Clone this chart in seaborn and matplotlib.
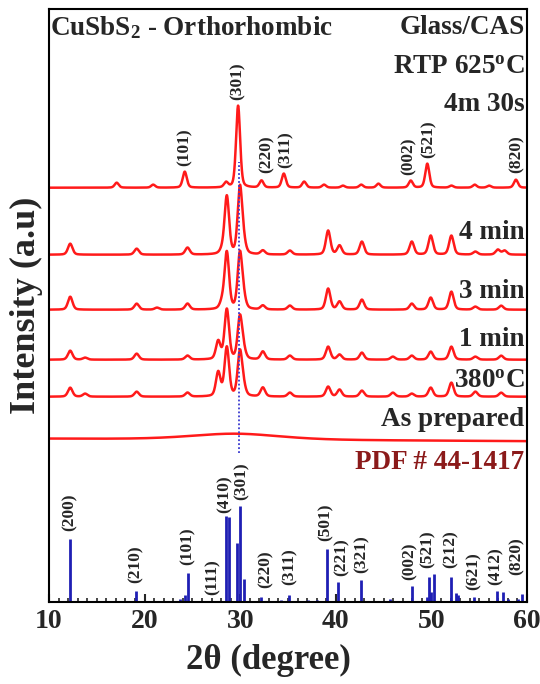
import numpy as np
import pandas as pd
import matplotlib
matplotlib.use("Agg")
import matplotlib.pyplot as plt
import seaborn as sns
from matplotlib.ticker import MultipleLocator

# ---------------- data ----------------
samples = ["4m 30s", "4 min", "3 min", "1 min", "380°C", "As prepared"]
offsets = [414, 347, 292, 242, 205, 163]

pk_4m30 = [17.08, 20.9, 24.2, 28.52, 29.78, 32.23, 34.56, 36.69, 38.77, 40.75, 42.66, 44.46, 47.84, 49.57, 52.1, 54.53, 56.04, 58.84]
h_4m30 = [5, 3, 16, 5, 82, 7, 14, 6, 3, 2, 3, 4, 7, 24, 2, 3, 2, 8]

pk_4min = [12.22, 19.17, 24.49, 28.1, 28.6, 29.97, 30.35, 32.37, 35.2, 39.2, 40.39, 42.73, 47.95, 49.93, 52.09, 54.6, 56.95, 57.66]
h_4min = [11, 6, 7, 3, 58, 66, 10, 4, 4, 24, 9, 13, 13, 19, 19, 3, 5, 4]

pk_3min = [12.22, 19.17, 21.3, 24.49, 28.1, 28.6, 29.97, 30.35, 32.37, 35.2, 39.2, 40.39, 42.73, 47.95, 49.93, 52.09, 54.6, 57.3]
h_3min = [13, 6, 2, 6, 6, 57, 55, 10, 4, 4, 21, 8, 10, 6, 12, 18, 3, 4]

pk_1min = [12.22, 13.78, 19.17, 24.49, 27.7, 28.6, 29.97, 30.35, 32.37, 35.2, 39.2, 40.39, 42.73, 45.97, 47.95, 49.93, 52.09, 54.6, 57.3]
h_1min = [9, 2, 6, 4, 18, 50, 42, 8, 8, 4, 13, 5, 7, 3, 4, 8, 13, 3, 4]

pk_380 = [12.22, 13.78, 19.17, 24.49, 27.7, 28.6, 29.97, 30.35, 32.37, 35.2, 39.2, 40.39, 42.73, 45.97, 47.95, 49.93, 52.09, 54.6, 57.3]
h_380 = [9, 3, 5, 4, 24, 49, 44, 8, 9, 4, 10, 7, 6, 4, 3, 9, 14, 5, 4]

pk_asprep = [29.5]
h_asprep = [6]

peak_sets = [(pk_4m30, h_4m30), (pk_4min, h_4min), (pk_3min, h_3min),
             (pk_1min, h_1min), (pk_380, h_380), (pk_asprep, h_asprep)]
fwhm = [0.5, 0.56, 0.56, 0.56, 0.56, 11.0]

pdf_pos = [12.16, 19.1, 23.66, 24.2, 24.57, 27.7, 28.52, 28.78, 29.71, 29.97, 30.35, 32.19, 34.28, 35.1,
           37.12, 38.06, 39.06, 40.22, 42.66, 45.72, 47.95, 49.57, 49.75, 49.93, 50.29, 52.0, 52.55,
           52.8, 54.42, 56.87, 57.48, 58.0, 59.1, 59.46]
pdf_int = [63, 11, 3, 7, 29, 1, 86, 85, 59, 96, 23, 5, 2, 7,
           2, 2, 53, 20, 22, 3, 16, 5, 25, 10, 28, 25, 9,
           7, 5, 11, 10, 3, 3, 8]

pdf_hkl = ["(200)", "(210)", "(101)", "(111)", "(410)", "(301)", "(220)", "(311)", "(501)",
           "(221)", "(321)", "(002)", "(521)", "(212)", "(621)", "(412)", "(820)"]
pdf_hkl_x = [12.2, 19.1, 24.5, 27.1, 28.35, 30.1, 32.66, 35.18, 38.95, 40.57, 42.73, 47.77, 49.57, 52.0, 54.42, 56.76, 58.92]
pdf_hkl_y = [69, 17, 35, 5, 87, 100, 12, 15, 59, 24, 27, 20, 32, 32, 10, 15, 25]

top_hkl = ["(101)", "(301)", "(220)", "(311)", "(002)", "(521)", "(820)"]
top_hkl_x = [24.17, 29.78, 32.8, 34.75, 47.6, 49.75, 58.92]
top_hkl_y = [434, 500, 427, 432, 425, 442, 427]

label_y = [497, 369, 310, 262, 220, 182]
x_ticks = [10, 20, 30, 40, 50, 60]

# ---------------- style ----------------
sns.set_style("ticks")
plt.rcParams["font.family"] = ["Liberation Serif", "DejaVu Serif"]
plt.rcParams["font.weight"] = "bold"
plt.rcParams["mathtext.fontset"] = "custom"
plt.rcParams["mathtext.rm"] = "Liberation Serif:bold"
plt.rcParams["mathtext.bf"] = "Liberation Serif:bold"
plt.rcParams["mathtext.it"] = "Liberation Serif:bold:italic"

fig = plt.figure(figsize=(5.4, 6.84), dpi=100)
ax = fig.add_axes([49 / 540, 1 - 601.7 / 684, 478 / 540, 592.7 / 684])

x = np.arange(10, 60.001, 0.02)


def profile(pos, hts, w):
    y = np.zeros_like(x)
    g = w / 2.0
    for p, h in zip(pos, hts):
        lor = 1.0 / (1.0 + ((x - p) / g) ** 2)
        gau = np.exp(-np.log(2) * ((x - p) / g) ** 2)
        y += h * (0.35 * lor + 0.65 * gau)
    return y


rows = []
for name, off, (pos, hts), w in zip(samples, offsets, peak_sets, fwhm):
    yv = off + profile(pos, hts, w)
    if name == "As prepared":
        yv = yv - 2.5 * (x - 10) / 50
    rows.append(pd.DataFrame({"two_theta": x, "intensity": yv, "sample": name}))
df = pd.concat(rows, ignore_index=True)

for name in samples:
    sub = df[df["sample"] == name]
    sns.lineplot(data=sub, x="two_theta", y="intensity", ax=ax, color="#ff1a1a",
                 lw=1.8, estimator=None, sort=False)

ax.vlines(pdf_pos, 0, pdf_int, color="#1f1fb4", lw=2.0)
ax.plot([29.9, 29.9], [149, 440], ls=(0, (1, 1.2)), color="#3a3ad0", lw=1.3, zorder=5)

for t, xx, yy in zip(pdf_hkl, pdf_hkl_x, pdf_hkl_y):
    ax.text(xx, yy + 2, t, rotation=90, ha="center", va="bottom", fontsize=12.5, fontweight="bold")
for t, xx, yy in zip(top_hkl, top_hkl_x, top_hkl_y):
    ax.text(xx, yy + 2, t, rotation=90, ha="center", va="bottom", fontsize=12.5, fontweight="bold")

lab_txt = [r"4m 30s", r"4 min", r"3 min", r"1 min", r"380$^{\mathrm{o}}$C", r"As prepared"]
for t, yy in zip(lab_txt, label_y):
    ax.text(59.75, yy, t, ha="right", va="center", fontsize=19.5, fontweight="bold")

ax.text(10.15, 574, r"CuSbS$_{2}$ - Orthorhombic", ha="left", va="center", fontsize=19.5, fontweight="bold")
ax.text(59.75, 574, "Glass/CAS", ha="right", va="center", fontsize=19.5, fontweight="bold")
ax.text(59.75, 534, r"RTP 625$^{\mathrm{o}}$C", ha="right", va="center", fontsize=19.5, fontweight="bold")
ax.text(59.75, 139, "PDF # 44-1417", ha="right", va="center", fontsize=19.5, fontweight="bold", color="#8b1a1a")

ax.set_xlim(10, 60)
ax.set_ylim(0, 592.7)
ax.set_xticks(x_ticks)
ax.xaxis.set_minor_locator(MultipleLocator(1))
ax.set_yticks([])
ax.tick_params(axis="x", which="major", direction="in", length=6, width=1.5, labelsize=20, pad=5)
ax.tick_params(axis="x", which="minor", direction="in", length=3, width=1.2)
for lab in ax.get_xticklabels():
    lab.set_fontweight("bold")
for s in ax.spines.values():
    s.set_linewidth(1.5)
    s.set_color("black")
ax.set_xlabel("2θ (degree)", fontsize=25, fontweight="bold")
ax.xaxis.set_label_coords((268 - 49) / 478, -0.072)
ax.set_ylabel("Intensity (a.u)", fontsize=26, fontweight="bold", labelpad=4)

fig.savefig("out.png", dpi=100)
